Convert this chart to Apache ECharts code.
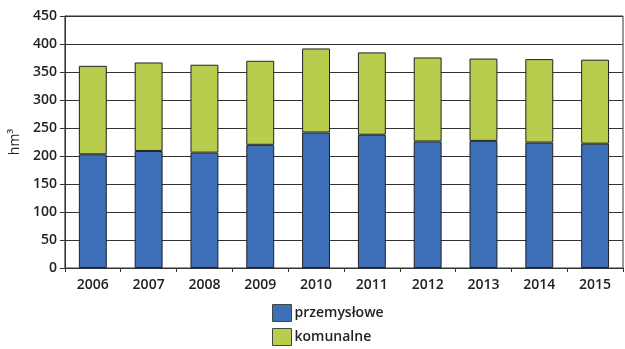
<!DOCTYPE html>
<html><head><meta charset="utf-8">
<script src="https://cdn.jsdelivr.net/npm/echarts@6/dist/echarts.min.js"></script>
<style>html,body{margin:0;padding:0;background:#fff}#c{width:625px;height:349px}</style>
</head><body><div id="c"></div>
<script>
const years = ['2006','2007','2008','2009','2010','2011','2012','2013','2014','2015'];
const przemyslowe = [203, 209, 206, 220, 242, 238, 226, 227, 224, 222];
const komunalne = [158, 158, 157, 150, 150, 147, 150, 147, 149, 150];
const seriesNames = ['przemysłowe', 'komunalne'];
const yTicks = {min: 0, max: 450, interval: 50};

const font = '"Open Sans", "DejaVu Sans", sans-serif';
const chart = echarts.init(document.getElementById('c'), null, {renderer: 'canvas'});
chart.setOption({
  animation: false,
  grid: {left: 64, right: 2, top: 16, bottom: 81, show: true, borderColor: '#333', borderWidth: 1},
  legend: {
    orient: 'vertical', left: 272, top: 304, padding: 0, height: 45,
    icon: 'rect',
    itemWidth: 19, itemHeight: 17, itemGap: 6,
    itemStyle: {borderColor: '#444', borderWidth: 1},
    textStyle: {fontFamily: font, fontSize: 14, fontWeight: 600, color: '#222', padding: [0, 0, 0, -2]},
    data: seriesNames
  },
  xAxis: {
    type: 'category', data: years,
    axisLine: {lineStyle: {color: '#333', width: 1}},
    axisTick: {show: true, length: 4, lineStyle: {color: '#333'}},
    axisLabel: {fontFamily: font, fontSize: 14, fontWeight: 600, color: '#222', margin: 10}
  },
  yAxis: {
    type: 'value', min: yTicks.min, max: yTicks.max, interval: yTicks.interval,
    name: 'hm³', nameLocation: 'middle', nameGap: 39, nameRotate: 90,
    nameTextStyle: {fontFamily: font, fontSize: 14, color: '#222'},
    axisLine: {show: true, lineStyle: {color: '#333', width: 1}},
    axisTick: {show: true, length: 5, lineStyle: {color: '#333'}},
    axisLabel: {fontFamily: font, fontSize: 14, fontWeight: 600, color: '#222', margin: 8},
    splitLine: {lineStyle: {color: '#333', width: 1}}
  },
  series: [
    {name: seriesNames[0], type: 'bar', stack: 'a', data: przemyslowe, barWidth: '50%',
     itemStyle: {color: '#3d6fb8', borderColor: '#222', borderWidth: 1}},
    {name: seriesNames[1], type: 'bar', stack: 'a', data: komunalne, barWidth: '50%',
     itemStyle: {color: '#b8cc4e', borderColor: '#222', borderWidth: 1}}
  ]
});
</script></body></html>
